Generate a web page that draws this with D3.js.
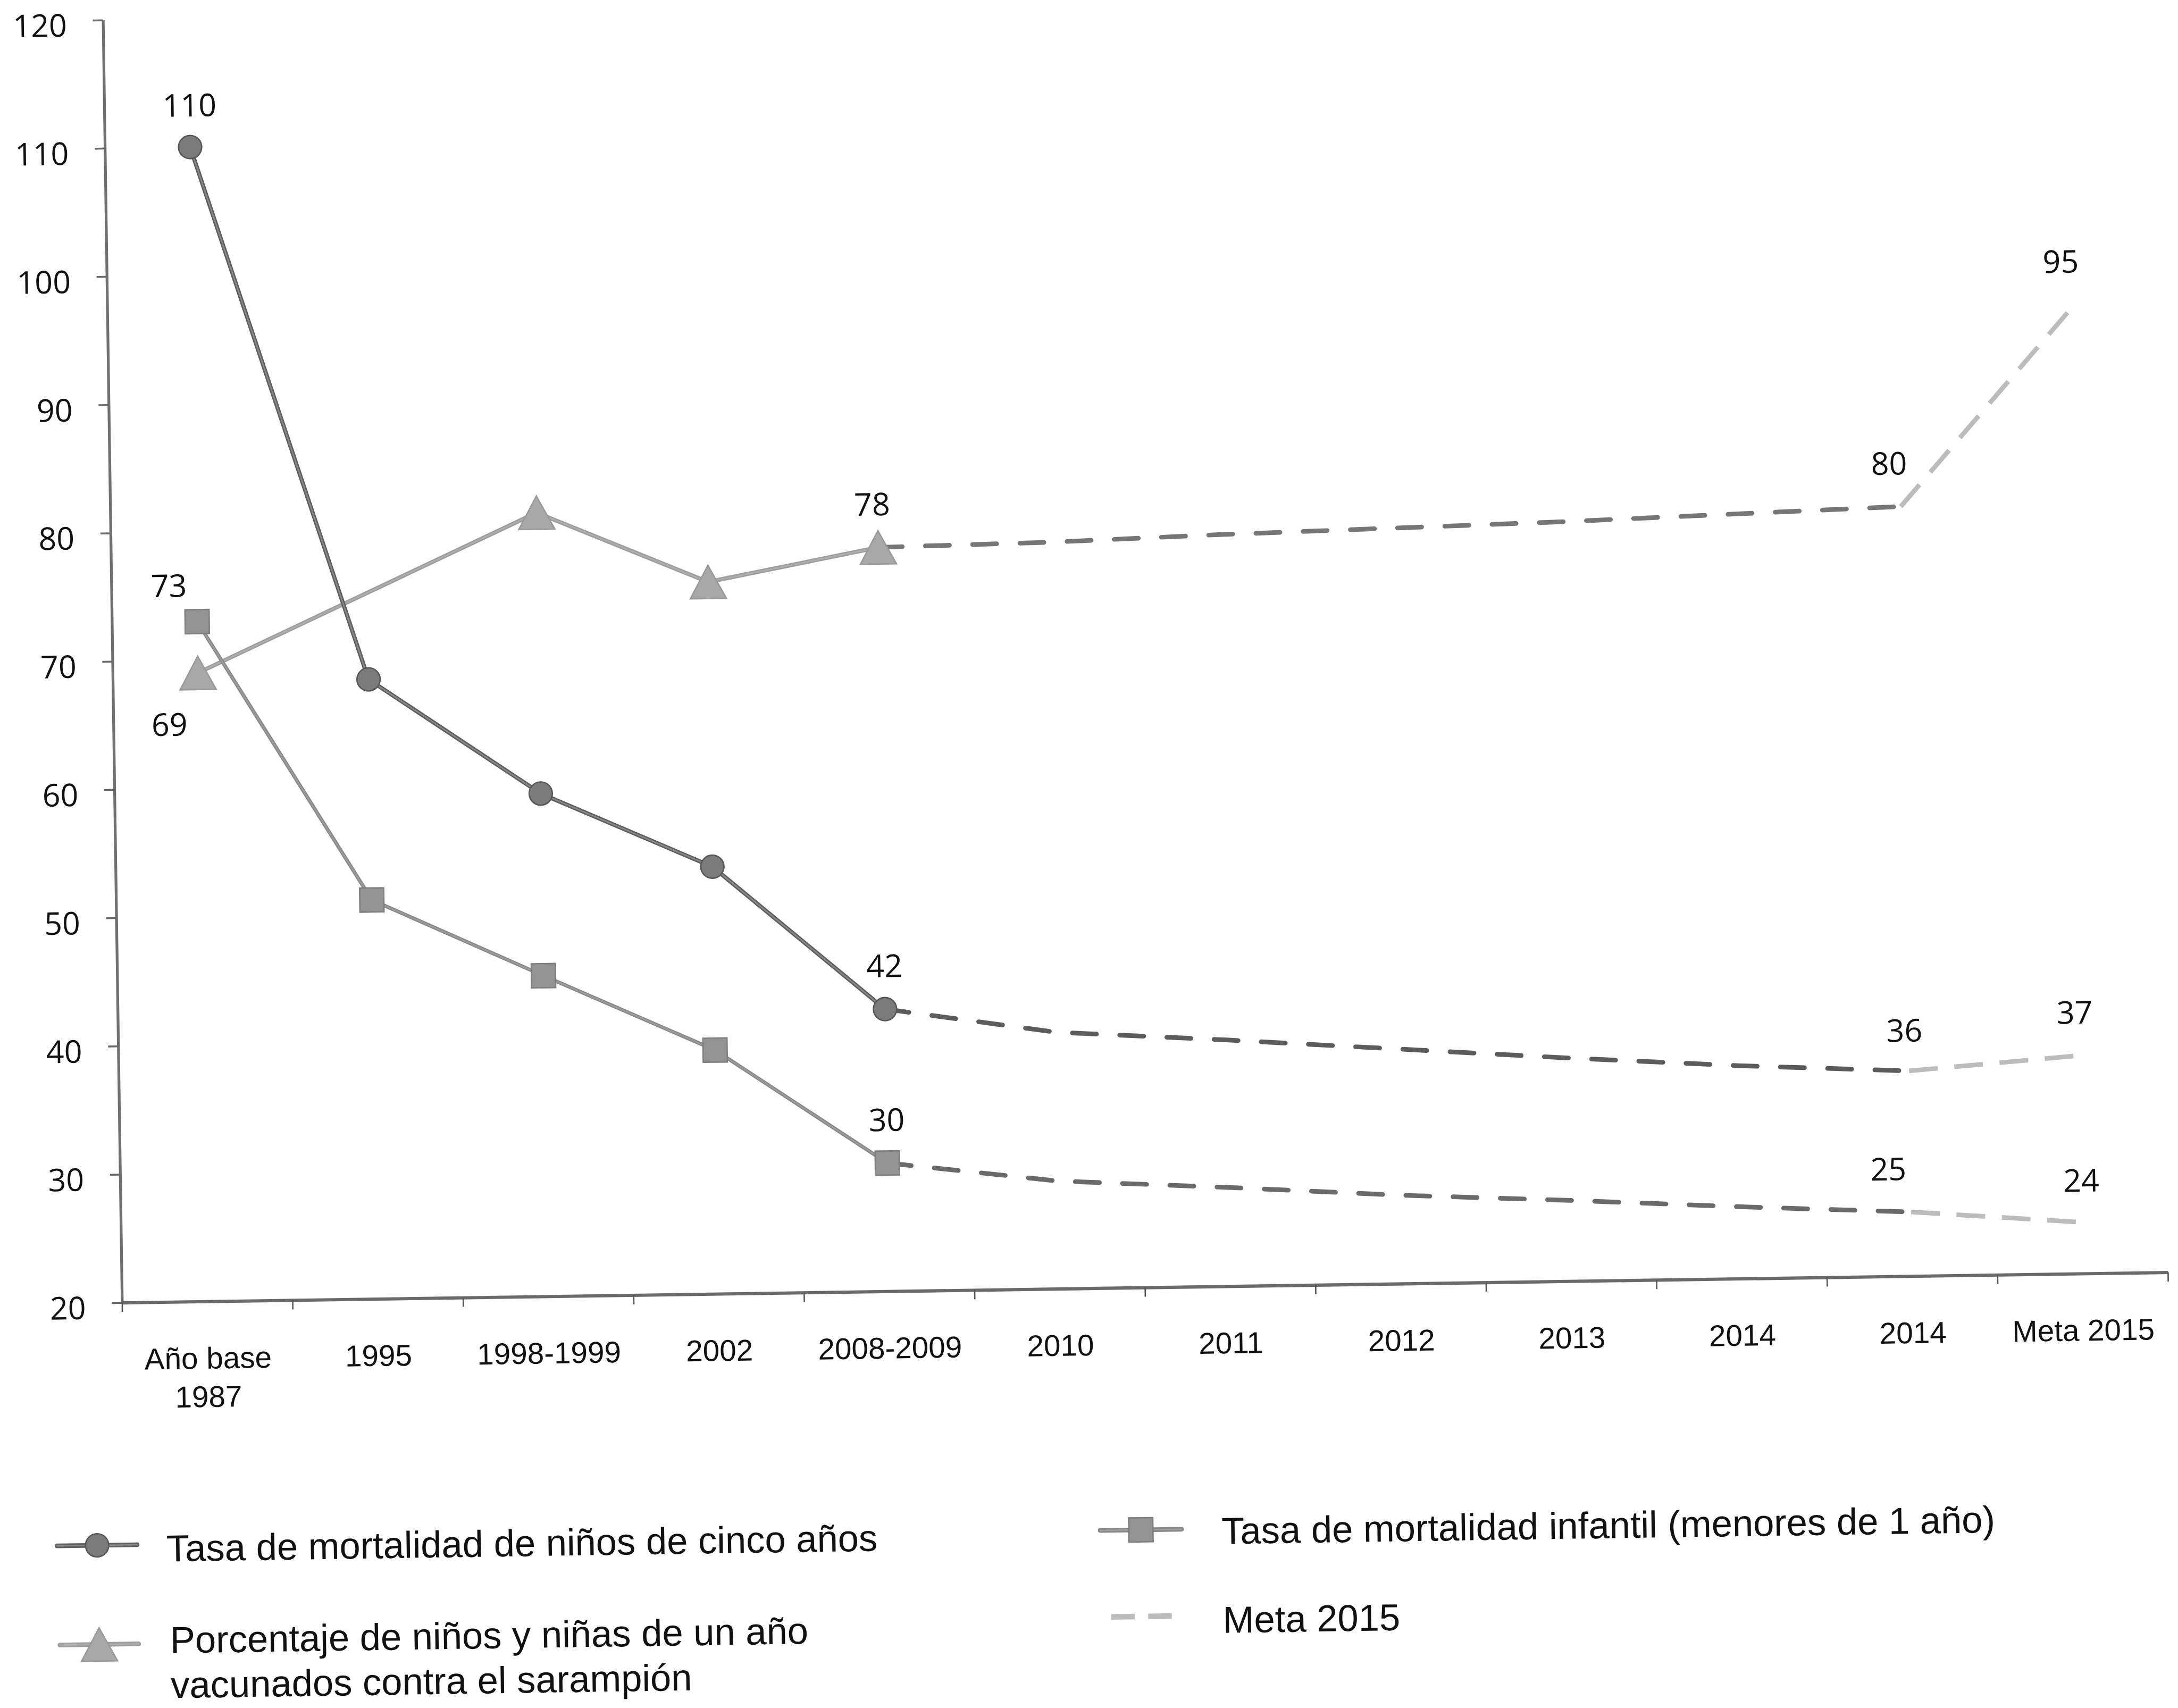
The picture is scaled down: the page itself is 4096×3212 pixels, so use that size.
<!DOCTYPE html>
<html>
<head>
<meta charset="utf-8">
<script src="https://cdn.jsdelivr.net/npm/d3@7"></script>
<style>
  html, body { margin: 0; padding: 0; background: #fff; }
  svg { display: block; }
</style>
</head>
<body>
<script>
// ---- Data ---------------------------------------------------------------
const categories = ["Año base|1987", "1995", "1998-1999", "2002", "2008-2009",
                    "2010", "2011", "2012", "2013", "2014", "2014", "Meta 2015"];
const yTicks = [20, 30, 40, 50, 60, 70, 80, 90, 100, 110, 120];

// Tasa de mortalidad de niños de cinco años
const under5Observed = [110, 68.3, 59.2, 53.3, 42, null, null, null, null, null, null, null];
const under5Trend    = [null, null, null, null, 42, 40.0, 39.2, 38.3, 37.4, 36.6, 36, null];
const under5Goal     = [null, null, null, null, null, null, null, null, null, null, 36, 37];

// Tasa de mortalidad infantil (menores de 1 año)
const infantObserved = [73, 51.1, 45.0, 39.0, 30, null, null, null, null, null, null, null];
const infantTrend    = [null, null, null, null, 30, 28.4, 27.7, 26.9, 26.3, 25.6, 25, null];
const infantGoal     = [null, null, null, null, null, null, null, null, null, null, 25, 24];

// Porcentaje de niños y niñas de un año vacunados contra el sarampión
const measlesObserved = [69, null, 81.1, 75.5, 78, null, null, null, null, null, null, null];
const measlesTrend    = [null, null, null, null, 78, 78.2, 78.6, 78.9, 79.2, 79.6, 80, null];
const measlesGoal     = [null, null, null, null, null, null, null, null, null, null, 80, 95];

const legendLabels = [
  "Tasa de mortalidad de niños de cinco años",
  "Porcentaje de niños y niñas de un año|vacunados contra el sarampión",
  "Tasa de mortalidad infantil (menores de 1 año)",
  "Meta 2015"
];

// ---- Canvas -------------------------------------------------------------
const W = 4701, H = 3687;
const svg = d3.select("body").append("svg")
  .attr("width", 4096).attr("height", 3212)
  .attr("viewBox", `0 0 ${W} ${H}`);
svg.append("rect").attr("width", W).attr("height", H).attr("fill", "#ffffff");

const origin = { x: 263, y: 2812 };
const rightEdge = 4680, topEdge = 43;

// the printed page sits slightly tilted
const page = svg.append("g")
  .attr("transform", `rotate(-0.85 ${origin.x} ${origin.y})`);

const x = d3.scaleBand().domain(d3.range(categories.length)).range([origin.x, rightEdge]);
const cx = i => x(i) + x.bandwidth() / 2;
const xEdge = d3.scaleLinear().domain([0, categories.length]).range([origin.x, rightEdge]);
const y = d3.scaleLinear().domain([20, 120]).range([origin.y, topEdge]);

const numFont = "'Open Sans', 'Noto Sans', sans-serif";
const txtFont = "'Liberation Sans', Arial, sans-serif";

// ---- Axes ---------------------------------------------------------------
const yAxis = page.append("g")
  .attr("transform", `translate(${origin.x},0)`)
  .call(d3.axisLeft(y).tickValues(yTicks).tickSize(22).tickSizeOuter(0).tickPadding(56));
yAxis.select(".domain").attr("stroke", "#707070").attr("stroke-width", 6);
yAxis.selectAll(".tick line").attr("stroke", "#6a6a6a").attr("stroke-width", 4);
yAxis.selectAll(".tick text")
  .attr("font-family", numFont).attr("font-size", 68).attr("fill", "#111")
  .attr("dy", "0.5em");

const xTickAxis = page.append("g")
  .attr("transform", `translate(0,${origin.y})`)
  .call(d3.axisBottom(xEdge).tickValues(d3.range(categories.length + 1))
        .tickFormat("").tickSize(20).tickSizeOuter(0));
xTickAxis.select(".domain").attr("stroke", "#6a6a6a").attr("stroke-width", 7);
xTickAxis.selectAll(".tick line").attr("stroke", "#555").attr("stroke-width", 3);

const xLabelAxis = page.append("g")
  .attr("transform", `translate(0,${origin.y})`)
  .call(d3.axisBottom(x).tickSize(0).tickFormat(""));
xLabelAxis.select(".domain").remove();
xLabelAxis.selectAll(".tick").each(function (i) {
  const t = d3.select(this).select("text")
    .attr("font-family", txtFont).attr("font-size", 65).attr("fill", "#111")
    .attr("y", 145).attr("dy", 0);
  categories[i].split("|").forEach((line, k) => {
    t.append("tspan").attr("x", 0).attr("dy", k === 0 ? 0 : 83).text(line);
  });
});

// ---- Series -------------------------------------------------------------
const toPoints = arr => arr.map((v, i) => ({ i, v })).filter(d => d.v != null);
const line = d3.line().x(d => cx(d.i)).y(d => y(d.v));

const series = [
  { obs: under5Observed, trend: under5Trend, goal: under5Goal, marker: "circle",
    lineColor: "#5e5e5e", coreColor: "#8a8a8a", lineWidth: 9, trendColor: "#5c5c5c",
    fill: "#7b7b7b", stroke: "#575757" },
  { obs: infantObserved, trend: infantTrend, goal: infantGoal, marker: "square",
    lineColor: "#888888", coreColor: "#9c9c9c", lineWidth: 8, trendColor: "#6a6a6a",
    fill: "#939393", stroke: "#7e7e7e" },
  { obs: measlesObserved, trend: measlesTrend, goal: measlesGoal, marker: "triangle",
    lineColor: "#9d9d9d", coreColor: "#afafaf", lineWidth: 9, trendColor: "#767676",
    fill: "#a8a8a8", stroke: "#999999" }
];

const trendDash = "52 50", goalDash = "62 36";

function drawMarker(g, kind, px, py, s) {
  if (kind === "circle") {
    g.append("circle").attr("cx", px).attr("cy", py).attr("r", 25)
      .attr("fill", s.fill).attr("stroke", s.stroke).attr("stroke-width", 3);
  } else if (kind === "square") {
    g.append("rect").attr("x", px - 26).attr("y", py - 26).attr("width", 52).attr("height", 52)
      .attr("fill", s.fill).attr("stroke", s.stroke).attr("stroke-width", 3);
  } else {
    const hw = 39, hh = 36;
    g.append("path")
      .attr("d", `M${px},${py - hh}L${px + hw},${py + hh}L${px - hw},${py + hh}Z`)
      .attr("fill", s.fill).attr("stroke", s.stroke).attr("stroke-width", 3);
  }
}

const marks = page.append("g");
// goal segments (light dashes)
series.forEach(s => {
  marks.append("path").datum(toPoints(s.goal)).attr("d", line)
    .attr("fill", "none").attr("stroke", "#bcbcbc").attr("stroke-width", 10)
    .attr("stroke-dasharray", goalDash);
});
// projected segments (dark dashes)
series.forEach(s => {
  marks.append("path").datum(toPoints(s.trend)).attr("d", line)
    .attr("fill", "none").attr("stroke", s.trendColor).attr("stroke-width", 10)
    .attr("stroke-linecap", "round").attr("stroke-dasharray", trendDash);
});
// observed lines with markers
series.slice().reverse().forEach(s => {
  const pts = toPoints(s.obs);
  marks.append("path").datum(pts).attr("d", line)
    .attr("fill", "none").attr("stroke", s.lineColor).attr("stroke-width", s.lineWidth)
    .attr("stroke-linejoin", "round");
  marks.append("path").datum(pts).attr("d", line)
    .attr("fill", "none").attr("stroke", s.coreColor).attr("stroke-width", 3)
    .attr("stroke-linejoin", "round");
  pts.forEach(d => drawMarker(marks, s.marker, cx(d.i), y(d.v), s));
});

// ---- Data labels --------------------------------------------------------
const labelPlacement = [
  { src: under5Observed, i: 0, dx: 0, dy: -66 },
  { src: infantObserved, i: 0, dx: -60, dy: -54 },
  { src: measlesObserved, i: 0, dx: -63, dy: 135 },
  { src: measlesObserved, i: 4, dx: -12, dy: -69 },
  { src: under5Observed, i: 4, dx: 0, dy: -69 },
  { src: infantObserved, i: 4, dx: 0, dy: -69 },
  { src: measlesTrend, i: 10, dx: -24, dy: -69 },
  { src: measlesGoal, i: 11, dx: -15, dy: -84 },
  { src: under5Trend, i: 10, dx: -9, dy: -63 },
  { src: under5Goal, i: 11, dx: -9, dy: -69 },
  { src: infantTrend, i: 10, dx: -48, dy: -69 },
  { src: infantGoal, i: 11, dx: 0, dy: -66 }
];
page.append("g").selectAll("text").data(labelPlacement).join("text")
  .attr("x", d => cx(d.i) + d.dx)
  .attr("y", d => y(d.src[d.i]) + d.dy)
  .attr("text-anchor", "middle")
  .attr("font-family", numFont).attr("font-size", 68).attr("fill", "#111")
  .text(d => d3.format("d")(d.src[d.i]));

// ---- Legend -------------------------------------------------------------
const legend = page.append("g");
const legendItems = [
  { s: series[0], x0: 115, x1: 288, sy: 3335, tx: 351, ty: 3372, label: legendLabels[0] },
  { s: series[2], x0: 118, x1: 288, sy: 3549, tx: 356, ty: 3570, label: legendLabels[1] },
  { s: series[1], x0: 2367, x1: 2543, sy: 3335, tx: 2629, ty: 3368, label: legendLabels[2] },
  { s: null, x0: 2388, x1: 2519, sy: 3522, tx: 2629, ty: 3560, label: legendLabels[3] }
];
legendItems.forEach(it => {
  const g = legend.append("g");
  if (it.s) {
    g.append("line").attr("x1", it.x0).attr("x2", it.x1).attr("y1", it.sy).attr("y2", it.sy)
      .attr("stroke", it.s.lineColor).attr("stroke-width", 10).attr("stroke-linecap", "round");
    g.append("line").attr("x1", it.x0).attr("x2", it.x1).attr("y1", it.sy).attr("y2", it.sy)
      .attr("stroke", it.s.coreColor).attr("stroke-width", 3).attr("stroke-linecap", "round");
    drawMarker(g, it.s.marker, (it.x0 + it.x1) / 2, it.sy, it.s);
  } else {
    g.append("line").attr("x1", it.x0).attr("x2", it.x1).attr("y1", it.sy).attr("y2", it.sy)
      .attr("stroke", "#bcbcbc").attr("stroke-width", 12).attr("stroke-dasharray", "51 29");
  }
  const t = g.append("text").attr("x", it.tx).attr("y", it.ty)
    .attr("font-family", txtFont).attr("font-size", 81).attr("fill", "#111");
  it.label.split("|").forEach((ln, k) => {
    t.append("tspan").attr("x", it.tx).attr("dy", k === 0 ? 0 : 97).text(ln);
  });
});
</script>
</body>
</html>
